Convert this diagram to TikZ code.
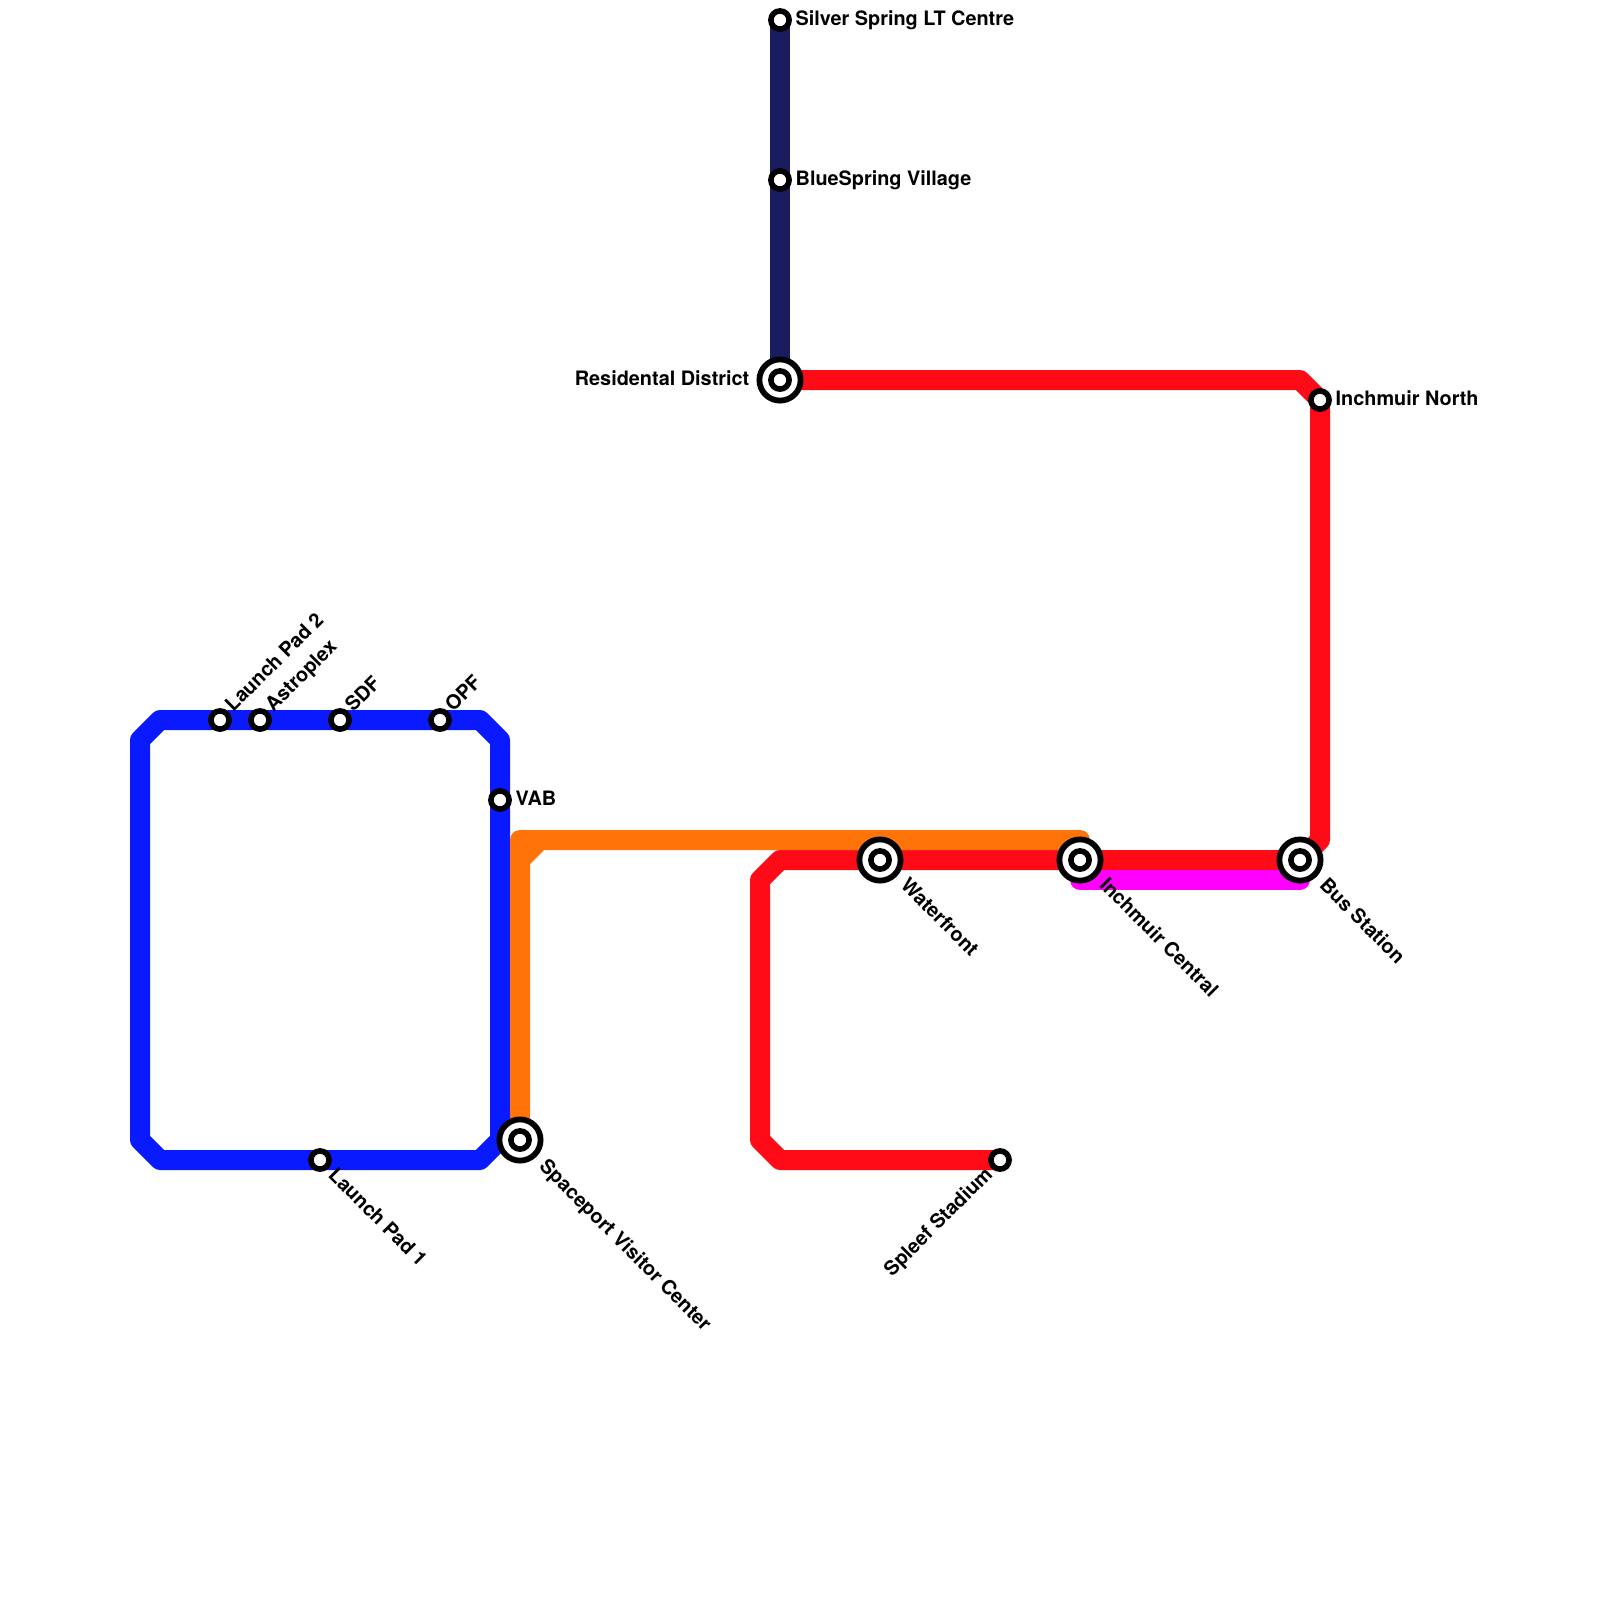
\documentclass[tikz,border=0pt]{standalone}
\usepackage{fontspec}
\setmainfont{TeX Gyre Heros}
\usetikzlibrary{calc}

\definecolor{linenavy}{HTML}{191C5E}
\definecolor{linered}{HTML}{FF0A17}
\definecolor{lineblue}{HTML}{0A1AFF}
\definecolor{lineorange}{HTML}{FF7308}
\definecolor{linepink}{HTML}{FF00FF}

\tikzset{
    metro/.style={line width=0.2cm, line join=round},
    smallstn/.style={circle, draw=black, fill=white, line width=0.056cm, minimum size=0.182cm, inner sep=0pt},
    bigstn/.style={circle, draw=black, fill=white, line width=0.058cm, minimum size=0.412cm, inner sep=0pt},
    lbl/.style={font=\bfseries\fontsize{5.65pt}{6.5pt}\selectfont, inner sep=0pt, text=black}
}

\begin{document}
\begin{tikzpicture}[x=0.2cm, y=-0.2cm]

    \useasboundingbox (0,0) rectangle (80,80);

    % 1. station positions
    \coordinate (silver) at (39,1);
    \coordinate (bluespring) at (39,9);
    \coordinate (residental) at (39,19);
    \coordinate (inchnorth) at (66,20);
    \coordinate (waterfront) at (44,43);
    \coordinate (inchcentral) at (54,43);
    \coordinate (busstation) at (65,43);
    \coordinate (spleef) at (50,58);
    \coordinate (spaceport) at (26,57);
    \coordinate (vab) at (25,40);
    \coordinate (opf) at (22,36);
    \coordinate (sdf) at (17,36);
    \coordinate (astroplex) at (13,36);
    \coordinate (padtwo) at (11,36);
    \coordinate (padone) at (16,58);

    % 2. lines
    \draw[metro, linenavy] (silver) -- (bluespring) -- (residental);
    \draw[metro, linered] (residental) -- (65,19) -- (inchnorth) -- (66,42) -- (busstation)
        -- (inchcentral) -- (waterfront) -- (39,43) -- (38,44) -- (38,57) -- (39,58) -- (spleef);
    \draw[metro, lineblue] (spaceport) -- (25,57) -- (24,58) -- (padone) -- (8,58) -- (7,57) -- (7,37)
        -- (8,36) -- (padtwo) -- (astroplex) -- (sdf) -- (opf) -- (24,36) -- (25,37) -- (vab) -- (25,57);
    \draw[metro, lineorange] (spaceport) -- (26,43) -- (27,42) -- (54,42) -- (inchcentral);
    \draw[metro, lineorange] (26,43) -- (26,42) -- (27,42);
    \draw[metro, linepink] (inchcentral) -- (54,44) -- (65,44) -- (busstation);

    % 3. interchange rings
    \foreach \stn in {residental, waterfront, inchcentral, busstation, spaceport} {
        \node[bigstn] (ring\stn) at (\stn) {};
    }

    % 4. stations with their labels: name / rotation / anchor / offset / text
    \foreach \stn/\rot/\anc/\dx/\dy/\txt in {
        silver/0/base west/15/5/Silver Spring LT Centre,
        bluespring/0/base west/15/5/BlueSpring Village,
        residental/0/base east/-30/5/Residental District,
        inchnorth/0/base west/15/5/Inchmuir North,
        vab/0/base west/15/5/VAB,
        waterfront/-45/base west/19/26/Waterfront,
        inchcentral/-45/base west/18/26/Inchmuir Central,
        busstation/-45/base west/18/26/Bus Station,
        spaceport/-45/base west/18/27/Spaceport Visitor Center,
        padone/-45/base west/7/16/Launch Pad 1,
        spleef/45/base east/-6/15/Spleef Stadium,
        padtwo/45/base west/13/-7/Launch Pad 2,
        astroplex/45/base west/13/-7/Astroplex,
        sdf/45/base west/13/-7/SDF,
        opf/45/base west/13/-7/OPF} {
        \node[smallstn] (stn\stn) at (\stn) {};
        \node[lbl, rotate=\rot, anchor=\anc] (lbl\stn) at ($(\stn)+(\dx/20,\dy/20)$) {\txt};
    }

\end{tikzpicture}
\end{document}
